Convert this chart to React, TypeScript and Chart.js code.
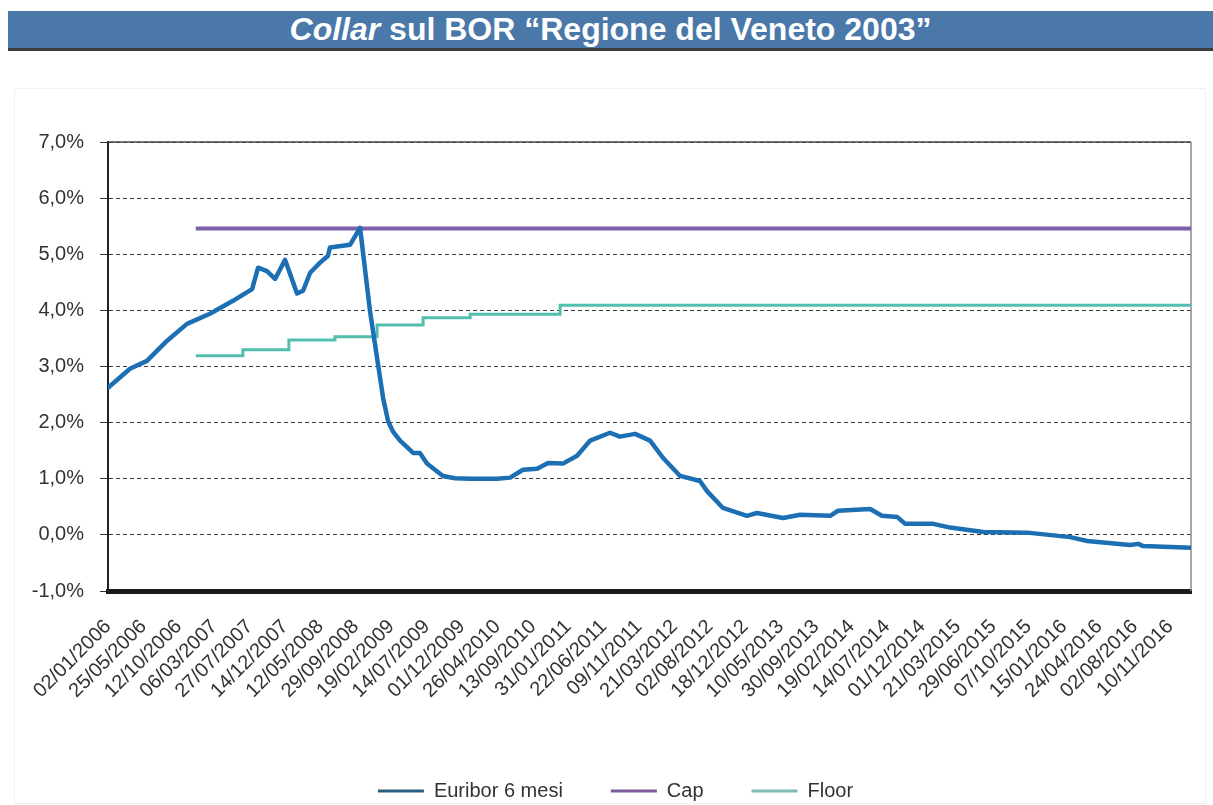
import React, { useEffect, useRef } from 'react';
import { Chart, registerables } from 'chart.js';

Chart.register(...registerables);

const FONT = "'Liberation Sans', Arial, sans-serif";

const dateLabels = [
  '02/01/2006', '25/05/2006', '12/10/2006', '06/03/2007', '27/07/2007', '14/12/2007',
  '12/05/2008', '29/09/2008', '19/02/2009', '14/07/2009', '01/12/2009', '26/04/2010',
  '13/09/2010', '31/01/2011', '22/06/2011', '09/11/2011', '21/03/2012', '02/08/2012',
  '18/12/2012', '10/05/2013', '30/09/2013', '19/02/2014', '14/07/2014', '01/12/2014',
  '21/03/2015', '29/06/2015', '07/10/2015', '15/01/2016', '24/04/2016', '02/08/2016',
  '10/11/2016',
];

const seriesNames = ['Euribor 6 mesi', 'Cap', 'Floor'];

// position along the date axis (in label steps) and rate (%)
const euriborPos = [
  0, 0.62, 1.10, 1.67, 2.23, 2.88, 3.53, 4.07, 4.24, 4.49, 4.72, 5.00, 5.34, 5.51, 5.71,
  5.99, 6.21, 6.27, 6.84, 7.12, 7.40, 7.77, 7.91, 8.05, 8.25, 8.62, 8.81, 9.01, 9.46, 9.80,
  10.23, 10.99, 11.36, 11.72, 12.12, 12.43, 12.85, 13.25, 13.62, 14.18, 14.46, 14.89, 15.31,
  15.68, 16.16, 16.72, 16.92, 17.37, 18.05, 18.33, 19.07, 19.55, 20.40, 20.62, 21.53,
  21.86, 22.29, 22.51, 23.28, 23.79, 24.72, 25.96, 27.18, 27.66, 28.87, 29.10, 29.24,
  30.59,
];
const euriborRate = [
  2.62, 2.96, 3.10, 3.46, 3.76, 3.94, 4.17, 4.38, 4.76, 4.70, 4.56, 4.90, 4.30, 4.35, 4.67,
  4.85, 4.97, 5.12, 5.17, 5.47, 3.99, 2.44, 2.03, 1.84, 1.68, 1.46, 1.46, 1.27, 1.05, 1.01,
  1.00, 1.00, 1.02, 1.16, 1.18, 1.28, 1.27, 1.41, 1.68, 1.82, 1.75, 1.80, 1.68,
  1.37, 1.05, 0.96, 0.78, 0.48, 0.34, 0.39, 0.30, 0.36, 0.34, 0.43, 0.46,
  0.34, 0.32, 0.20, 0.20, 0.13, 0.05, 0.04, -0.04, -0.11, -0.18, -0.16, -0.20,
  -0.23,
];

const capPos = [2.48, 30.59];
const capRate = [5.46, 5.46];

const floorPos = [2.48, 3.81, 5.11, 6.41, 7.60, 8.90, 10.23, 12.77, 30.59];
const floorRate = [3.19, 3.30, 3.47, 3.53, 3.74, 3.87, 3.93, 4.09, 4.09];

const X_MAX = 30.59;
const LEGEND_SHIFT = 20;

const toPoints = (xs: number[], ys: number[]) => xs.map((x, i) => ({ x, y: ys[i] }));

const framePlugin = {
  id: 'frame',
  afterLayout(chart: any) {
    if (chart.legend) {
      chart.legend.left += LEGEND_SHIFT;
      chart.legend.right += LEGEND_SHIFT;
    }
  },
  beforeDatasetsDraw(chart: any) {
    const { ctx, chartArea } = chart;
    ctx.save();
    ctx.setLineDash([]);
    ctx.strokeStyle = '#444';
    ctx.lineWidth = 1.5;
    ctx.beginPath();
    ctx.moveTo(chartArea.left, chartArea.top);
    ctx.lineTo(chartArea.right, chartArea.top);
    ctx.stroke();
    ctx.strokeStyle = '#8a8a8a';
    ctx.beginPath();
    ctx.moveTo(chartArea.right, chartArea.top);
    ctx.lineTo(chartArea.right, chartArea.bottom);
    ctx.stroke();
    ctx.restore();
  },
};

function ChartView() {
  const ref = useRef<HTMLCanvasElement | null>(null);

  useEffect(() => {
    if (!ref.current) return;
    const chart = new Chart(ref.current, {
      type: 'line',
      data: {
        datasets: [
          {
            label: seriesNames[0],
            data: toPoints(euriborPos, euriborRate),
            borderColor: '#1c6fb3',
            backgroundColor: '#2b5e80',
            borderWidth: 4.5,
            pointRadius: 0,
            tension: 0,
            borderJoinStyle: 'round',
            borderCapStyle: 'round',
          },
          {
            label: seriesNames[1],
            data: toPoints(capPos, capRate),
            borderColor: '#7d60a8',
            backgroundColor: '#7d5a9a',
            borderWidth: 4,
            pointRadius: 0,
          },
          {
            label: seriesNames[2],
            data: toPoints(floorPos, floorRate),
            borderColor: '#52bfae',
            backgroundColor: '#7fbcb2',
            borderWidth: 3,
            pointRadius: 0,
            stepped: 'before',
          },
        ],
      },
      options: {
        animation: false,
        responsive: true,
        maintainAspectRatio: false,
        layout: { padding: { top: 82, right: 22, left: 0, bottom: 0 } },
        plugins: {
          tooltip: { enabled: false },
          legend: {
            position: 'bottom',
            labels: {
              boxWidth: 46,
              boxHeight: 3,
              padding: 48,
              color: '#333',
              font: { family: FONT, size: 20 },
              generateLabels: (c: any) =>
                Chart.defaults.plugins.legend.labels
                  .generateLabels(c)
                  .map((l: any) => ({ ...l, lineWidth: 0 })),
            },
          },
        },
        scales: {
          x: {
            type: 'linear',
            min: 0,
            max: X_MAX,
            grid: { display: false, drawTicks: false },
            border: { display: true, color: '#1a1a1a', width: 5 },
            afterBuildTicks: (scale: any) => {
              scale.ticks = dateLabels.map((_, i) => ({ value: i }));
            },
            afterFit: (scale: any) => {
              scale.height = 142;
            },
            ticks: {
              autoSkip: false,
              maxRotation: 45,
              minRotation: 45,
              padding: 24,
              color: '#333',
              font: { family: FONT, size: 20 },
              callback: (v: any) => dateLabels[Math.round(Number(v))] ?? '',
            },
          },
          y: {
            min: -1,
            max: 7,
            ticks: {
              stepSize: 1,
              padding: 16,
              color: '#333',
              font: { family: FONT, size: 20 },
              callback: (v: any) => Number(v).toFixed(1).replace('.', ',') + '%',
            },
            grid: {
              color: '#3a3a3a',
              lineWidth: 1,
              tickLength: 8,
              tickColor: '#333',
              tickBorderDash: [],
            },
            border: { display: true, color: '#222', width: 2, dash: [4, 3] },
            afterFit: (scale: any) => {
              scale.width = 108;
            },
          },
        },
      },
      plugins: [framePlugin],
    } as any);
    return () => chart.destroy();
  }, []);

  return (
    <div style={{ position: 'absolute', left: 0, top: 60, width: 1213, height: 751 }}>
      <canvas ref={ref} />
    </div>
  );
}

export default function App() {
  return (
    <div
      style={{
        position: 'absolute',
        left: 0,
        top: 0,
        width: 1213,
        height: 805,
        overflow: 'hidden',
        background: '#fff',
      }}
    >
      <div
        style={{
          position: 'absolute',
          left: 8,
          top: 11,
          width: 1205,
          height: 37,
          background: '#4a78a8',
          borderBottom: '3px solid #3c3c3c',
          color: '#fff',
          fontFamily: FONT,
          fontWeight: 'bold',
          fontSize: 32,
          lineHeight: '37px',
          textAlign: 'center',
          whiteSpace: 'nowrap',
        }}
      >
        <i>Collar</i> sul BOR “Regione del Veneto 2003”
      </div>
      <div
        style={{
          position: 'absolute',
          left: 14,
          top: 88,
          width: 1192,
          height: 716,
          border: '1px solid #f1f1f1',
          boxSizing: 'border-box',
        }}
      />
      <ChartView />
    </div>
  );
}
